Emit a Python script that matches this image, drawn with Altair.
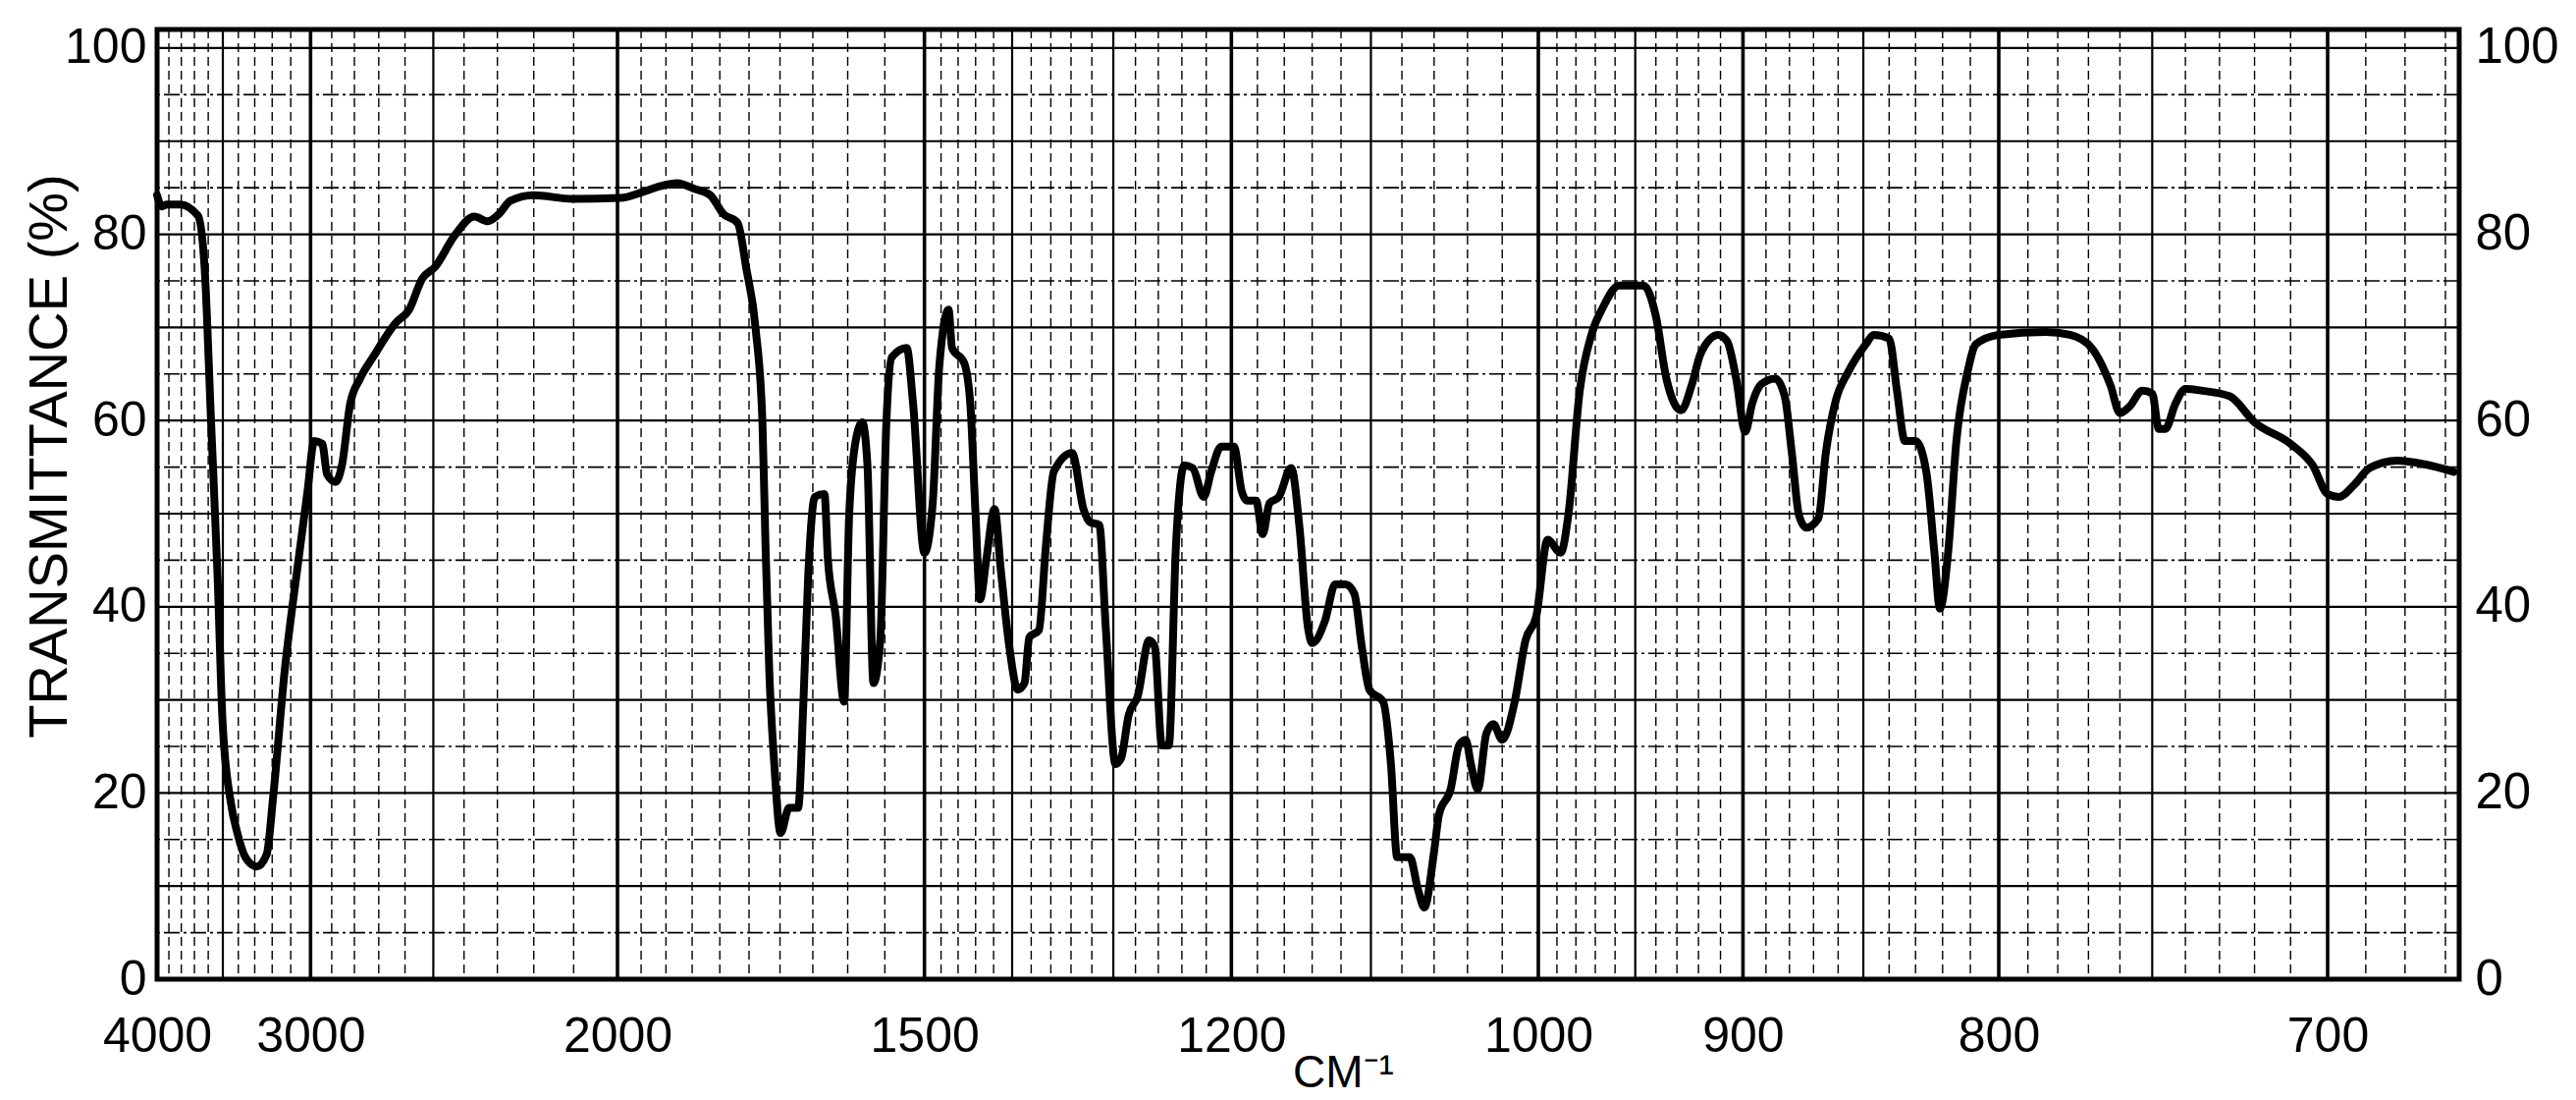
import altair as alt
import pandas as pd

# ---- spectrum (wavenumber in cm-1, transmittance in %) ----
wavenumber = [
    4000, 3960, 3917, 3811, 3674, 3626, 3580, 3535, 3502, 3448, 3406, 3356, 3287,
    3231, 3194, 3132, 3064, 3015, 2982, 2944, 2921, 2883, 2854, 2818, 2776, 2723,
    2634, 2585, 2539, 2494, 2429, 2368, 2328, 2295, 2263, 2201, 2103, 1994, 1949,
    1910, 1878, 1847, 1817, 1794, 1769, 1755, 1739, 1728, 1723, 1717, 1709, 1699,
    1686, 1672, 1664, 1657, 1647, 1633, 1628, 1617, 1605, 1598, 1589, 1580, 1573,
    1565, 1556, 1548, 1541, 1522, 1514, 1500, 1490, 1482, 1471, 1467, 1453, 1446,
    1440, 1435, 1428, 1419, 1412, 1403, 1394, 1387, 1382, 1372, 1365, 1357, 1339,
    1328, 1322, 1313, 1307, 1298, 1293, 1286, 1278, 1268, 1263, 1257, 1251, 1245,
    1238, 1231, 1222, 1216, 1208, 1198, 1192, 1188, 1181, 1176, 1171, 1164, 1155,
    1149, 1143, 1140, 1131, 1124, 1117, 1111, 1106, 1101, 1092, 1087, 1083, 1075,
    1070, 1066, 1060, 1057, 1050, 1045, 1041, 1038, 1034, 1029, 1025, 1020, 1013,
    1007, 1001, 995, 988, 984, 978, 972, 966, 958, 946, 940, 935, 928, 923, 919,
    911, 907, 903, 899, 896, 892, 886, 882, 879, 876, 873, 868, 865, 861, 856, 849,
    846, 840, 837, 834, 830, 826, 823, 821, 818, 815, 811, 808, 800, 784, 776, 769,
    763, 760, 757, 753, 750, 748, 746, 743, 740, 735, 727, 720, 710, 704, 700, 697,
    693, 689, 682, 675, 668,
]
transmittance = [
    84.2, 83.0, 83.2, 83.2, 82.0, 76.5, 59.8, 43.1, 27.7, 19.0, 15.7, 13.1, 12.1,
    13.4, 19.7, 33.1, 44.4, 52.4, 57.8, 57.5, 54.2, 53.4, 55.2, 61.8, 64.5, 66.8,
    70.5, 71.9, 75.2, 76.5, 79.9, 81.9, 81.4, 82.2, 83.6, 84.2, 83.8, 83.9, 84.5,
    85.2, 85.5, 84.9, 84.2, 82.2, 81.2, 76.5, 69.8, 59.8, 46.5, 33.1, 23.1, 15.7,
    18.4, 18.4, 29.8, 43.1, 51.8, 52.1, 45.1, 39.1, 29.8, 49.8, 57.8, 59.8, 55.2,
    31.8, 36.4, 59.8, 66.8, 67.8, 61.8, 45.8, 51.1, 65.9, 71.9, 67.8, 66.2, 61.8,
    49.8, 40.8, 45.1, 50.5, 43.8, 35.7, 31.1, 31.8, 36.7, 37.5, 46.5, 54.5, 56.5,
    50.5, 49.1, 48.8, 37.8, 23.1, 23.7, 28.4, 30.4, 36.4, 35.7, 25.1, 25.1, 46.5,
    55.2, 54.9, 51.8, 54.5, 57.2, 57.2, 52.4, 51.4, 51.4, 47.8, 51.1, 51.8, 54.9,
    48.5, 37.8, 36.1, 38.5, 42.4, 42.4, 41.4, 35.7, 31.1, 29.8, 23.1, 13.1, 13.1,
    9.7, 7.7, 13.7, 17.7, 20.4, 25.1, 25.7, 23.1, 20.4, 26.4, 27.4, 25.7, 29.8,
    36.4, 39.1, 47.2, 45.8, 49.8, 63.2, 69.2, 72.2, 74.5, 74.5, 71.2, 64.5, 61.1,
    63.9, 67.2, 69.2, 68.5, 64.5, 58.8, 61.8, 63.9, 64.5, 62.6, 56.5, 49.8, 48.5,
    49.5, 56.5, 62.1, 65.2, 68.2, 69.2, 68.8, 63.2, 57.8, 57.8, 54.5, 45.8, 39.8,
    45.8, 57.8, 65.2, 68.2, 69.2, 69.5, 69.2, 67.8, 63.8, 60.8, 61.5, 63.2, 62.9,
    59.1, 59.1, 61.8, 63.4, 63.2, 62.6, 59.8, 57.5, 55.2, 52.1, 51.8, 53.1, 54.9,
    55.7, 55.3, 54.5,
]

# ---- axis labels ----
x_tick_cm = [4000, 3000, 2000, 1500, 1200, 1000, 900, 800, 700]
y_ticks = [0, 20, 40, 60, 80, 100]

# ---- chart-paper grid ----
grid_major_cm = [3000, 2000, 1500, 1200, 1000, 900, 800, 700]
grid_mid_cm = [3500, 2500, 1400, 1300, 1100, 950, 850, 750]
grid_minor_cm = (
    [v for v in range(3900, 2000, -100) if v not in (3500, 3000, 2500)]
    + [v for v in range(1950, 1500, -50)]
    + [v for v in range(1480, 1000, -20) if v not in (1400, 1300, 1200, 1100)]
    + [v for v in range(990, 665, -10) if v % 50 != 0]
)
grid_h_solid = [10, 20, 30, 40, 50, 60, 70, 80, 90, 100]
grid_h_dash = [5, 15, 25, 35, 45, 55, 65, 75, 85, 95]

FONT = "Liberation Sans, Arial, sans-serif"
xscale = alt.Scale(domain=[2.5, 15.0], nice=False, zero=False)
yscale = alt.Scale(domain=[0, 102], nice=False, zero=False)

x_axis = alt.Axis(
    values=[10000 / v for v in x_tick_cm],
    labelExpr="round(10000/datum.value)",
    title="CM⁻¹", grid=False, ticks=False, domain=False,
    labelFont=FONT, labelFontSize=50, labelPadding=33,
    labelColor="black", labelOverlap=False, labelFlush=False,
    labelBound=False,
    titleFont=FONT, titleFontSize=46, titleFontWeight="normal",
    titleColor="black", titleX=1208, titleY=109, titleBaseline="alphabetic",
)

left_axis = alt.Axis(
    orient="left", values=y_ticks, title="TRANSMITTANCE  (%)",
    grid=False, ticks=False, domain=False,
    labelFont=FONT, labelFontSize=50, labelPadding=11,
    labelColor="black", labelOverlap=False, labelFlush=False,
    titleFont=FONT, titleFontSize=56, titleFontWeight="normal",
    titleColor="black", titleAngle=270, titleX=-110, titleY=434,
    titleAlign="center", titleBaseline="middle",
)

right_axis = alt.Axis(
    orient="right", values=y_ticks, title=None, grid=False, ticks=False,
    domain=False, labelFont=FONT, labelFontSize=51, labelPadding=16,
    labelColor="black", labelOverlap=False, labelFlush=False,
)


def vrules(vals, width, dash=None):
    kw = {"color": "black", "strokeWidth": width}
    if dash:
        kw["strokeDash"] = dash
    return (
        alt.Chart(pd.DataFrame({"cm": vals}))
        .transform_calculate(lam="10000/datum.cm")
        .mark_rule(**kw)
        .encode(x=alt.X("lam:Q", scale=xscale, axis=x_axis))
    )


def hrules(vals, width, dash=None, axis=None):
    kw = {"color": "black", "strokeWidth": width}
    if dash:
        kw["strokeDash"] = dash
    return (
        alt.Chart(pd.DataFrame({"T": vals}))
        .mark_rule(**kw)
        .encode(y=alt.Y("T:Q", scale=yscale, axis=axis))
    )


spectrum = (
    alt.Chart(pd.DataFrame({"cm": wavenumber, "T": transmittance}))
    .transform_calculate(lam="10000/datum.cm")
    .mark_line(color="black", strokeWidth=8, strokeJoin="round", strokeCap="round",
               interpolate="monotone")
    .encode(
        x=alt.X("lam:Q", scale=xscale, axis=x_axis),
        y=alt.Y("T:Q", scale=yscale, axis=left_axis),
    )
)

chart = (
    alt.layer(
        vrules(grid_minor_cm, 1.4, [9, 5]),
        hrules(grid_h_dash, 1.6, [16, 4, 3, 4]),
        hrules(grid_h_solid, 2.2, None, right_axis),
        vrules(grid_mid_cm, 2.2),
        vrules(grid_major_cm, 3.6),
        spectrum,
    )
    .resolve_axis(y="independent")
    .properties(
        width=2345, height=967,
        autosize=alt.AutoSizeParams(type="none"),
        padding={"left": 152, "top": 22, "right": 111, "bottom": 122},
        background="white",
    )
    .configure_view(stroke="black", strokeWidth=5)
)

chart.save("out.html", embed_options={"renderer": "svg", "actions": False})
